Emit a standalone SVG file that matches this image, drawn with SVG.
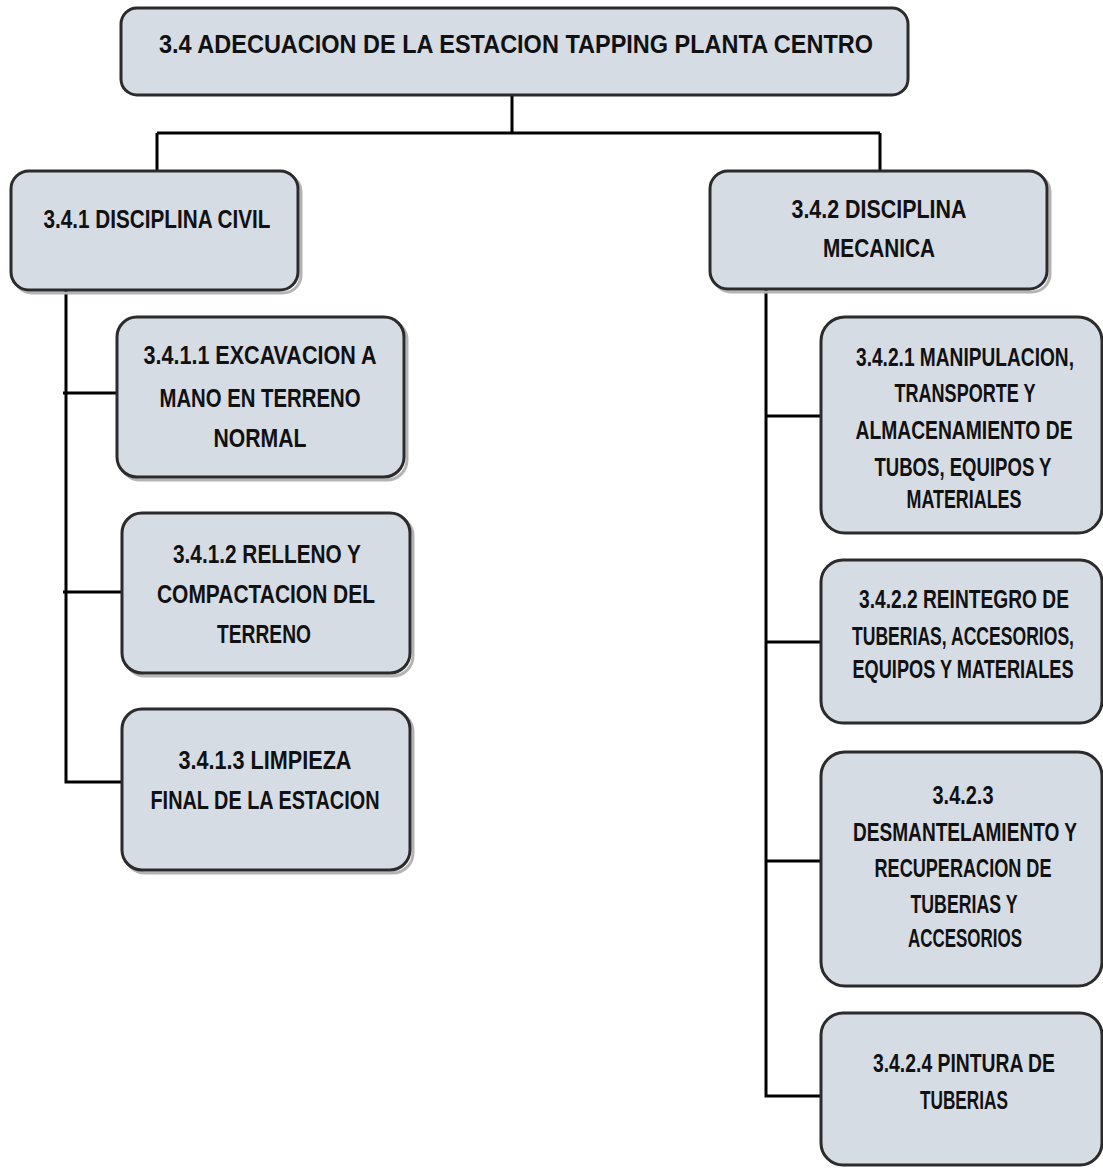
<svg xmlns="http://www.w3.org/2000/svg" width="1103" height="1169" viewBox="0 0 1103 1169">
<style>
.box{fill:#d6dce4;stroke:#2b2b2b;stroke-width:3}
.sh{fill:none;stroke:#b4b4b4;stroke-width:3}
.t{font-family:"Liberation Sans",Arial,sans-serif;font-size:26px;font-weight:bold;fill:#111;text-anchor:middle}
.c{fill:none;stroke:#000;stroke-width:3}
</style>
<rect width="1103" height="1169" fill="#fff"/>
<g id="connectors">
<path class="c" d="M512 95V133M157 133H880M157 133V171M880 133V171"/>
<path class="c" d="M66 290V782H122M63 393H117M63 592H122"/>
<path class="c" d="M766 289V1096H821M766 416H821M766 642H821M766 861H821"/>
</g>
<g id="n34">
<rect class="box" x="121" y="8" width="787" height="87" rx="16"/>
<g transform="scale(0.7 1)">
<text class="t" x="737.14" y="53" font-size="27" textLength="1020" lengthAdjust="spacingAndGlyphs">3.4 ADECUACION DE LA ESTACION TAPPING  PLANTA CENTRO</text>
</g>
</g>
<g id="n341">
<rect class="sh" x="14" y="174" width="287" height="119" rx="18"/>
<rect class="box" x="11" y="171" width="287" height="119" rx="18"/>
<g transform="scale(0.7 1)">
<text class="t" x="224.29" y="228" textLength="324.29" lengthAdjust="spacingAndGlyphs">3.4.1 DISCIPLINA CIVIL</text>
</g>
</g>
<g id="n3411">
<rect class="sh" x="120" y="320" width="287" height="160" rx="20"/>
<rect class="box" x="117" y="317" width="287" height="160" rx="20"/>
<g transform="scale(0.7 1)">
<text class="t" x="371.43" y="364" textLength="332.86" lengthAdjust="spacingAndGlyphs">3.4.1.1 EXCAVACION  A</text>
<text class="t" x="371.43" y="407" textLength="287.14" lengthAdjust="spacingAndGlyphs">MANO EN TERRENO</text>
<text class="t" x="371.43" y="447" textLength="132.86" lengthAdjust="spacingAndGlyphs">NORMAL</text>
</g>
</g>
<g id="n3412">
<rect class="sh" x="125" y="516" width="288" height="160" rx="20"/>
<rect class="box" x="122" y="513" width="288" height="160" rx="20"/>
<g transform="scale(0.7 1)">
<text class="t" x="381.43" y="563" textLength="268.57" lengthAdjust="spacingAndGlyphs">3.4.1.2 RELLENO Y</text>
<text class="t" x="380" y="603" textLength="311.43" lengthAdjust="spacingAndGlyphs">COMPACTACION  DEL</text>
<text class="t" x="377.14" y="643" textLength="134.29" lengthAdjust="spacingAndGlyphs">TERRENO</text>
</g>
</g>
<g id="n3413">
<rect class="sh" x="125" y="712" width="288" height="161" rx="20"/>
<rect class="box" x="122" y="709" width="288" height="161" rx="20"/>
<g transform="scale(0.7 1)">
<text class="t" x="378.57" y="769" textLength="247.14" lengthAdjust="spacingAndGlyphs">3.4.1.3 LIMPIEZA</text>
<text class="t" x="378.57" y="809" textLength="327.14" lengthAdjust="spacingAndGlyphs">FINAL DE LA ESTACION</text>
</g>
</g>
<g id="n342">
<rect class="sh" x="713" y="174" width="337" height="118" rx="18"/>
<rect class="box" x="710" y="171" width="337" height="118" rx="18"/>
<g transform="scale(0.7 1)">
<text class="t" x="1255.71" y="218" textLength="250" lengthAdjust="spacingAndGlyphs">3.4.2 DISCIPLINA</text>
<text class="t" x="1255.71" y="257" textLength="160" lengthAdjust="spacingAndGlyphs">MECANICA</text>
</g>
</g>
<g id="n3421">
<rect class="box" x="821" y="317" width="281" height="216" rx="24"/>
<g transform="scale(0.7 1)">
<text class="t" x="1378.57" y="366" textLength="311.43" lengthAdjust="spacingAndGlyphs">3.4.2.1  MANIPULACION,</text>
<text class="t" x="1378.57" y="402" textLength="201.43" lengthAdjust="spacingAndGlyphs">TRANSPORTE  Y</text>
<text class="t" x="1377.14" y="439" textLength="310" lengthAdjust="spacingAndGlyphs">ALMACENAMIENTO  DE</text>
<text class="t" x="1375.71" y="476" textLength="252.86" lengthAdjust="spacingAndGlyphs">TUBOS,  EQUIPOS  Y</text>
<text class="t" x="1377.14" y="508" textLength="164.29" lengthAdjust="spacingAndGlyphs">MATERIALES</text>
</g>
</g>
<g id="n3422">
<rect class="box" x="821" y="560" width="281" height="163" rx="22"/>
<g transform="scale(0.7 1)">
<text class="t" x="1377.14" y="608" textLength="300" lengthAdjust="spacingAndGlyphs">3.4.2.2 REINTEGRO  DE</text>
<text class="t" x="1375.71" y="645" textLength="317.14" lengthAdjust="spacingAndGlyphs">TUBERIAS,  ACCESORIOS,</text>
<text class="t" x="1375.71" y="678" textLength="315.71" lengthAdjust="spacingAndGlyphs">EQUIPOS  Y MATERIALES</text>
</g>
</g>
<g id="n3423">
<rect class="box" x="821" y="752" width="281" height="234" rx="24"/>
<g transform="scale(0.7 1)">
<text class="t" x="1375.71" y="804" textLength="87.14" lengthAdjust="spacingAndGlyphs">3.4.2.3</text>
<text class="t" x="1378.57" y="841" textLength="320" lengthAdjust="spacingAndGlyphs">DESMANTELAMIENTO  Y</text>
<text class="t" x="1375.71" y="877" textLength="252.86" lengthAdjust="spacingAndGlyphs">RECUPERACION  DE</text>
<text class="t" x="1377.14" y="913" textLength="152.86" lengthAdjust="spacingAndGlyphs">TUBERIAS  Y</text>
<text class="t" x="1378.57" y="947" textLength="162.86" lengthAdjust="spacingAndGlyphs">ACCESORIOS</text>
</g>
</g>
<g id="n3424">
<rect class="box" x="821" y="1013" width="281" height="152" rx="22"/>
<g transform="scale(0.7 1)">
<text class="t" x="1377.14" y="1072" textLength="260" lengthAdjust="spacingAndGlyphs">3.4.2.4  PINTURA  DE</text>
<text class="t" x="1377.14" y="1109" textLength="125.71" lengthAdjust="spacingAndGlyphs">TUBERIAS</text>
</g>
</g>
</svg>
